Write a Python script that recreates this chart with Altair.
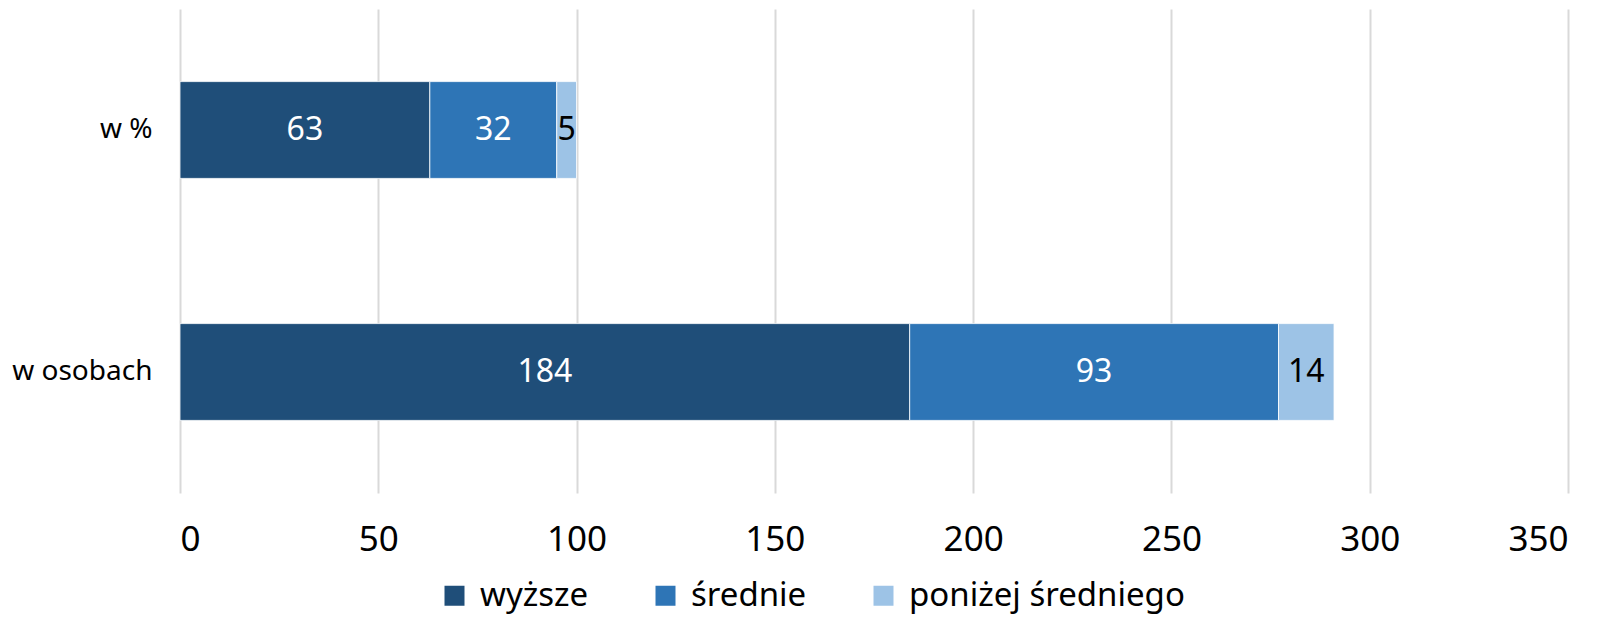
import altair as alt
import pandas as pd

rows = ["w %", "w osobach"]
series = ["wyższe", "średnie", "poniżej średniego"]
values_pct = [63, 32, 5]
values_os = [184, 93, 14]
colors = ["#1F4E79", "#2E75B6", "#9DC3E6"]
label_colors = ["white", "white", "black"]
x_ticks = [0, 50, 100, 150, 200, 250, 300, 350]

recs = []
for r, vals in zip(rows, [values_pct, values_os]):
    start = 0
    for i, (s, v) in enumerate(zip(series, vals)):
        recs.append({"row": r, "series": s, "order": i, "value": v,
                     "start": start, "end": start + v, "mid": start + v / 2,
                     "lc": label_colors[i]})
        start += v
df = pd.DataFrame(recs)

FONT = "Noto Sans"

y = alt.Y("row:N", sort=rows, title=None,
          scale=alt.Scale(paddingInner=0.6, paddingOuter=0.3),
          axis=alt.Axis(domain=False, ticks=False, labelFontSize=28, labelFont=FONT,
                        labelColor="black", labelPadding=28, grid=False))

bars = alt.Chart(df).mark_bar(stroke="white", strokeWidth=0.8).encode(
    x=alt.X("start:Q", title=None,
            scale=alt.Scale(domain=[0, 350], nice=False),
            axis=alt.Axis(values=x_ticks, domain=False, ticks=False, grid=True,
                          gridColor="#D9D9D9", gridWidth=2,
                          labelFontSize=35, labelFont=FONT, labelColor="black",
                          labelPadding=29)),
    x2="end:Q",
    y=y,
    color=alt.Color("series:N", sort=series,
                    scale=alt.Scale(domain=series, range=colors),
                    legend=alt.Legend(title=None, orient="none", direction="horizontal",
                                      legendX=258, legendY=570, symbolType="square",
                                      symbolSize=400, symbolStrokeWidth=0,
                                      labelFontSize=33, labelFont=FONT, labelColor="black",
                                      labelLimit=0, columnPadding=60, labelOffset=9,
                                      padding=0)),
    order="order:Q",
)

text = alt.Chart(df).mark_text(fontSize=32, font=FONT, baseline="middle", align="center").encode(
    x="mid:Q",
    y=y,
    text="value:Q",
    color=alt.Color("lc:N", scale=None, legend=None),
)

chart = (bars + text).properties(
    width=1388, height=484,
    autosize=alt.AutoSizeParams(type="none"),
    padding={"left": 172, "top": 1, "right": 35, "bottom": 126},
).configure_view(stroke=None)

chart.save("out.html", embed_options={"renderer": "svg", "actions": False})
